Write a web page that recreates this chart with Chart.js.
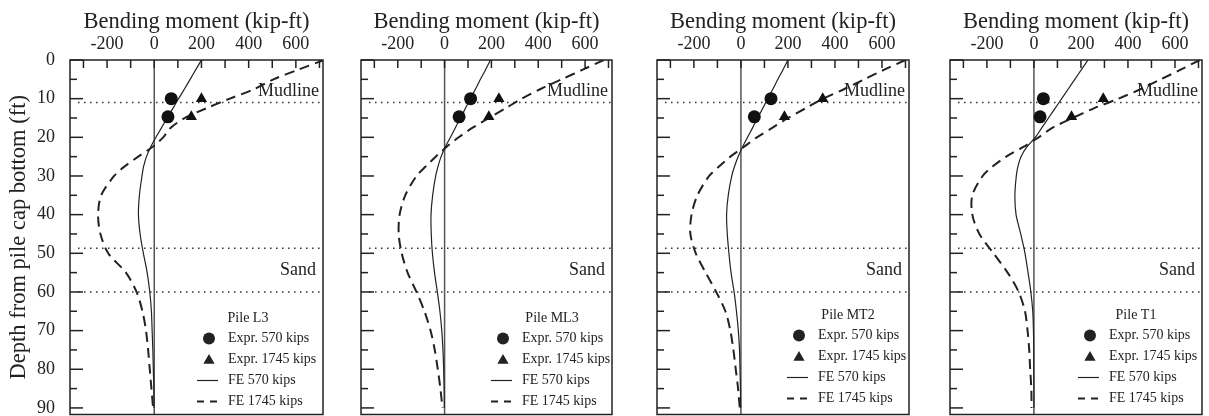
<!DOCTYPE html>
<html>
<head>
<meta charset="utf-8">
<script src="https://cdn.jsdelivr.net/npm/chart.js@4.4.1/dist/chart.umd.min.js"></script>
<style>
  html, body { margin:0; background:#fff; overflow:hidden; }
  #wrap { position:relative; width:1209px; height:416px; overflow:hidden; }
  canvas { position:absolute; left:0; top:0; }
</style>
</head>
<body>
<div id="wrap">
  <canvas id="c0" width="1209" height="421"></canvas>
  <canvas id="c1" width="1209" height="421"></canvas>
  <canvas id="c2" width="1209" height="421"></canvas>
  <canvas id="c3" width="1209" height="421"></canvas>
</div>
<script>
// ---- data ----
const pileNames = ['Pile L3', 'Pile ML3', 'Pile MT2', 'Pile T1'];
const seriesLabels = ['Expr. 570 kips', 'Expr. 1745 kips', 'FE 570 kips', 'FE 1745 kips'];
const xTitle = 'Bending moment (kip-ft)';
const yTitle = 'Depth from pile cap bottom (ft)';
const xTickLabels = [-200, 0, 200, 400, 600];
const yTickLabels = [0, 10, 20, 30, 40, 50, 60, 70, 80, 90];
const momentMin = -357, momentMax = 715, depthMax = 91.7;

const layerDepths = [11, 48.7, 60];          // dotted soil boundaries
const layerNames = ['Mudline', 'Sand'];
const layerLabelDepths = [9.3, 55.7];

const exprDepths = [10, 14.7];
const expr570 = [[72, 58], [111, 62], [128, 57], [40, 26]];
const expr1745 = [[200, 157], [232, 189], [348, 185], [295, 160]];

const feDepths = [0, 2.5, 5, 7.5, 10, 12.5, 15, 17.5, 20, 22.5, 25, 27.5, 30, 35, 40, 45, 50, 55, 60, 65, 70, 75, 80, 85, 90];
const fe570 = [
  [200, 176, 152, 128, 103, 79, 55, 31, 7, -15, -33, -45, -52, -63, -67, -60, -46, -30, -19, -12, -9, -6, -4, -2, -1],
  [196, 175, 153, 132, 110, 89, 68, 46, 25, 3, -15, -28, -38, -51, -58, -57, -52, -43, -31, -20, -12, -7, -4, -2, -1],
  [200, 179, 157, 136, 114, 93, 71, 50, 28, 7, -12, -27, -39, -54, -61, -58, -51, -42, -29, -19, -11, -6, -4, -2, -1],
  [230, 202, 174, 146, 118, 90, 62, 34, 6, -30, -55, -68, -75, -81, -76, -56, -38, -25, -13, -5, -2, -1, -1, 0, 0]
];
const fe1745 = [
  [720, 610, 505, 425, 320, 220, 130, 70, 38, -8, -68, -125, -170, -225, -238, -228, -195, -120, -75, -50, -35, -26, -19, -12, -5],
  [680, 590, 500, 410, 330, 260, 190, 120, 60, 8, -38, -80, -120, -168, -192, -196, -183, -158, -120, -86, -60, -42, -29, -18, -9],
  [700, 610, 525, 440, 350, 275, 200, 135, 68, 12, -45, -92, -135, -185, -210, -215, -192, -150, -105, -66, -45, -32, -22, -12, -5],
  [706, 624, 540, 455, 360, 255, 165, 80, 20, -45, -118, -175, -218, -262, -262, -232, -172, -112, -65, -38, -27, -20, -16, -11, -10]
];

// ---- layout ----
const panelBox = [[70, 323], [361, 612], [657, 909], [950, 1202]];
const plotTop = 60, plotBottom = 414, pageW = 1209, canvasH = 421;
const legendPos = [
  { title: -75, text: -95, dy: 0 },
  { title: -60, text: -90, dy: 0 },
  { title: -61, text: -91, dy: -3 },
  { title: -66, text: -93, dy: -3 }
];
const ink = '#222';
const serif = "'Liberation Serif', 'Times New Roman', serif";
Chart.defaults.font.family = serif;
Chart.defaults.color = ink;

function pts(depths, vals){ return vals.map((v, k) => ({ x: v, y: depths[k] })); }

function seg(ctx, x1, y1, x2, y2){ ctx.beginPath(); ctx.moveTo(x1, y1); ctx.lineTo(x2, y2); ctx.stroke(); }

function tri(ctx, cx, cy, r){
  ctx.beginPath();
  ctx.moveTo(cx, cy - r);
  ctx.lineTo(cx + r * 0.866, cy + r / 2);
  ctx.lineTo(cx - r * 0.866, cy + r / 2);
  ctx.closePath(); ctx.fill();
}

function noPad(s){ s.paddingTop = 0; s.paddingBottom = 0; s.paddingLeft = 0; s.paddingRight = 0; }

const decor = {
  id: 'decor',
  beforeDatasetsDraw(chart, args, opts){
    const { ctx, chartArea: a, scales: { x, y } } = chart;
    ctx.save();
    // zero moment line
    ctx.strokeStyle = '#555'; ctx.lineWidth = 1.5;
    const x0 = x.getPixelForValue(0);
    seg(ctx, x0, a.top, x0, a.bottom);
    // soil layer boundaries
    ctx.strokeStyle = '#333'; ctx.setLineDash([1.5, 4.5]);
    layerDepths.forEach(d => { const py = y.getPixelForValue(d); seg(ctx, a.left + 8, py, a.right, py); });
    ctx.restore();
  },
  afterDraw(chart, args, opts){
    const i = opts.panel;
    const { ctx, chartArea: a, scales: { x, y } } = chart;
    ctx.save();
    ctx.strokeStyle = ink; ctx.fillStyle = ink;
    // frame + inward ticks
    ctx.lineWidth = 1.5;
    ctx.strokeRect(a.left, a.top, a.right - a.left, a.bottom - a.top);
    x.ticks.forEach(t => { const px = x.getPixelForValue(t.value); seg(ctx, px, a.top, px, a.top + 8); });
    y.ticks.forEach(t => {
      if (t.value > 90) return;
      const py = y.getPixelForValue(t.value);
      seg(ctx, a.left, py, a.left + (t.value % 10 === 0 ? 13 : 7), py);
    });
    // layer names
    ctx.font = '18px ' + serif; ctx.textAlign = 'right'; ctx.textBaseline = 'alphabetic';
    ctx.fillText(layerNames[0], a.right - 4, y.getPixelForValue(layerLabelDepths[0]));
    ctx.fillText(layerNames[1], a.right - 7, y.getPixelForValue(layerLabelDepths[1]));
    // legend
    const lg = legendPos[i];
    const R = a.right, B = a.bottom + lg.dy;
    const rows = [-76, -55, -34, -13];
    ctx.font = '14px ' + serif; ctx.textBaseline = 'middle';
    ctx.textAlign = 'center';
    ctx.fillText(pileNames[i], R + lg.title, B - 96);
    ctx.textAlign = 'left';
    seriesLabels.forEach((s, k) => ctx.fillText(s, R + lg.text, B + rows[k]));
    const mx = R + lg.text - 19;
    ctx.beginPath(); ctx.arc(mx, B + rows[0], 6, 0, Math.PI * 2); ctx.fill();
    tri(ctx, mx, B + rows[1] + 1, 6.5);
    ctx.lineWidth = 1.2;
    seg(ctx, R + lg.text - 31, B + rows[2], R + lg.text - 10, B + rows[2]);
    ctx.lineWidth = 2; ctx.setLineDash([7, 6]);
    seg(ctx, R + lg.text - 31, B + rows[3], R + lg.text - 10, B + rows[3]);
    ctx.restore();
  }
};

function makePanel(i){
  const [L, R] = panelBox[i];
  const first = i === 0;
  new Chart(document.getElementById('c' + i), {
    type: 'scatter',
    data: {
      datasets: [
        { label: seriesLabels[0], data: pts(exprDepths, expr570[i]), pointStyle: 'circle', pointRadius: 6.5,
          backgroundColor: '#111', borderColor: '#111', borderWidth: 0 },
        { label: seriesLabels[1], data: pts(exprDepths, expr1745[i]), pointStyle: 'triangle', pointRadius: 6.5,
          backgroundColor: '#111', borderColor: '#111', borderWidth: 0 },
        { label: seriesLabels[2], data: pts(feDepths, fe570[i]), showLine: true, pointRadius: 0,
          borderColor: ink, borderWidth: 1.2, tension: 0.3 },
        { label: seriesLabels[3], data: pts(feDepths, fe1745[i]), showLine: true, pointRadius: 0,
          borderColor: ink, borderWidth: 2, borderDash: [10, 6], tension: 0.3 }
      ]
    },
    options: {
      responsive: false, animation: false, events: [], devicePixelRatio: 1,
      layout: { padding: { left: first ? L - 70 : L, right: pageW - R, top: 0, bottom: canvasH - plotBottom - 5 } },
      plugins: { legend: { display: false }, tooltip: { enabled: false }, decor: { panel: i } },
      scales: {
        x: {
          type: 'linear', position: 'top', min: momentMin, max: momentMax,
          grid: { display: false, drawTicks: false }, border: { display: false },
          ticks: { stepSize: 100, includeBounds: false, autoSkip: false, maxRotation: 0, padding: 5,
                   font: { size: 18 }, callback: v => xTickLabels.includes(v) ? String(v) : '' },
          title: { display: true, text: xTitle, font: { size: 22.5 }, padding: { top: 9, bottom: 0 } },
          afterFit: s => { s.height = plotTop; noPad(s); }
        },
        y: {
          type: 'linear', reverse: true, min: 0, max: depthMax,
          grid: { display: false, drawTicks: false }, border: { display: false },
          ticks: { display: first, stepSize: 5, includeBounds: false, autoSkip: false, padding: 15, font: { size: 18 },
                   callback: v => yTickLabels.includes(v) ? String(v) : '' },
          title: { display: first, text: yTitle, font: { size: 22.5 }, padding: { top: 6, bottom: 0 } },
          afterFit: s => { s.width = first ? 70 : 0; noPad(s); }
        }
      }
    },
    plugins: [decor]
  });
}

[0, 1, 2, 3].forEach(makePanel);
</script>
</body>
</html>
